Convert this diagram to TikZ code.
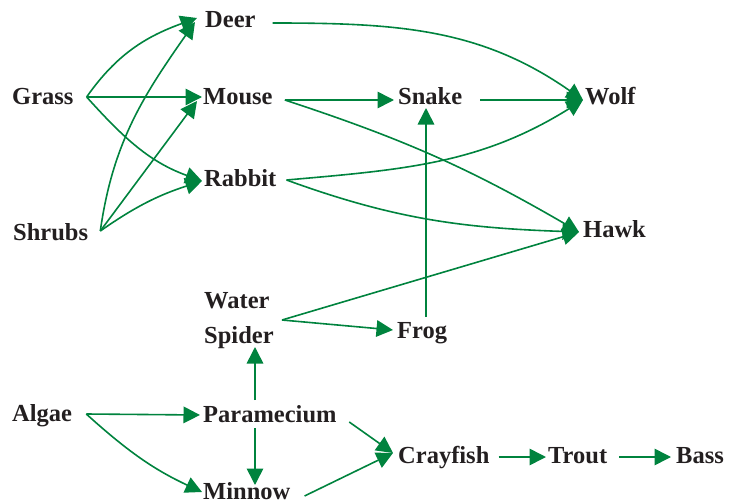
\documentclass[tikz,border=0pt]{standalone}
\usepackage{fontspec}
\setmainfont{Liberation Serif}
\usetikzlibrary{arrows.meta}
\definecolor{fw}{RGB}{0,131,62}
\definecolor{ink}{HTML}{231F20}
\tikzset{
  sp/.style={font=\fontsize{24.5}{35}\selectfont\bfseries, text=ink, inner sep=0pt, anchor=base west},
  arr/.style={draw=fw, line width=1.6pt, -{Triangle[length=16.5pt,width=16.5pt]}}
}
\begin{document}
\begin{tikzpicture}[x=1pt,y=1pt]
\useasboundingbox (0,0) rectangle (739,-503);
% nodes
\node[sp] (deer)     at (205,-28)  {Deer};
\node[sp] (grass)    at (12,-104)  {Grass};
\node[sp] (mouse)    at (203,-104) {Mouse};
\node[sp] (snake)    at (398,-104) {Snake};
\node[sp] (wolf)     at (585,-104) {Wolf};
\node[sp] (rabbit)   at (204,-186) {Rabbit};
\node[sp] (shrubs)   at (13,-240)  {Shrubs};
\node[sp] (hawk)     at (583,-237) {Hawk};
\node[sp] (ws)       at (204,-308) {\begin{tabular}[t]{@{}l@{}}Water\\Spider\end{tabular}};
\node[sp] (frog)     at (397,-338) {Frog};
\node[sp] (algae)    at (12,-421)  {Algae};
\node[sp] (para)     at (203,-422) {Paramecium};
\node[sp] (minnow)   at (203,-499) {Minnow};
\node[sp] (crayfish) at (398,-463) {Crayfish};
\node[sp] (trout)    at (548,-463) {Trout};
\node[sp] (bass)     at (676,-463) {Bass};
% grass
\draw[arr] ([shift={(13,7)}]grass.base east) to[out=55,in=200] ([shift={(-8,10)}]deer.base west);
\draw[arr] ([shift={(13,7)}]grass.base east) -- ([shift={(-1,7)}]mouse.base west);
\draw[arr] ([shift={(13,7)}]grass.base east) to[out=-48,in=160] ([shift={(-2,5)}]rabbit.base west);
% shrubs
\draw[arr] ([shift={(12,9)}]shrubs.base east) to[out=82,in=235] ([shift={(-10,6)}]deer.base west);
\draw[arr] ([shift={(12,9)}]shrubs.base east) -- ([shift={(-6,3)}]mouse.base west);
\draw[arr] ([shift={(12,9)}]shrubs.base east) to[out=35,in=198] ([shift={(-2,5)}]rabbit.base west);
% deer, mouse, rabbit
\draw[arr] ([shift={(17,5)}]deer.base east) to[out=0,in=145] ([shift={(-2,4)}]wolf.base west);
\draw[arr] ([shift={(12,4)}]mouse.base east) -- ([shift={(-4,4)}]snake.base west);
\draw[arr] ([shift={(12,4)}]mouse.base east) to[bend left=6] ([shift={(-4,5)}]hawk.base west);
\draw[arr] ([shift={(18,4)}]snake.base east) -- ([shift={(-2,4)}]wolf.base west);
\draw[arr] ([shift={(10,6)}]rabbit.base east) to[out=5,in=212] ([shift={(-2,4)}]wolf.base west);
\draw[arr] ([shift={(10,6)}]rabbit.base east) to[out=-20,in=178] ([shift={(-4,5)}]hawk.base west);
% water spider, frog
\draw[arr] ([shift={(78,-12)}]ws.base west) -- ([shift={(-4,5)}]hawk.base west);
\draw[arr] ([shift={(78,-12)}]ws.base west) -- ([shift={(-4,8)}]frog.base west);
\draw[arr] ([shift={(29,21)}]frog.base west) -- ([shift={(28,-4)}]snake.base west);
% aquatic
\draw[arr] ([shift={(52,22)}]para.base west) -- ([shift={(51,-39)}]ws.base west);
\draw[arr] ([shift={(52,-6)}]para.base west) -- ([shift={(52,14)}]minnow.base west);
\draw[arr] ([shift={(14,7)}]algae.base east) -- ([shift={(-3,7)}]para.base west);
\draw[arr] ([shift={(14,7)}]algae.base east) to[out=-42,in=155] ([shift={(-1,7)}]minnow.base west);
\draw[arr] ([shift={(12.5,0)}]para.base east) -- ([shift={(-5,10)}]crayfish.base west);
\draw[arr] ([shift={(14,3)}]minnow.base east) -- ([shift={(-5,10)}]crayfish.base west);
\draw[arr] ([shift={(9,6)}]crayfish.base east) -- ([shift={(-2,6)}]trout.base west);
\draw[arr] ([shift={(12,6)}]trout.base east) -- ([shift={(-5,6)}]bass.base west);
\end{tikzpicture}
\end{document}
